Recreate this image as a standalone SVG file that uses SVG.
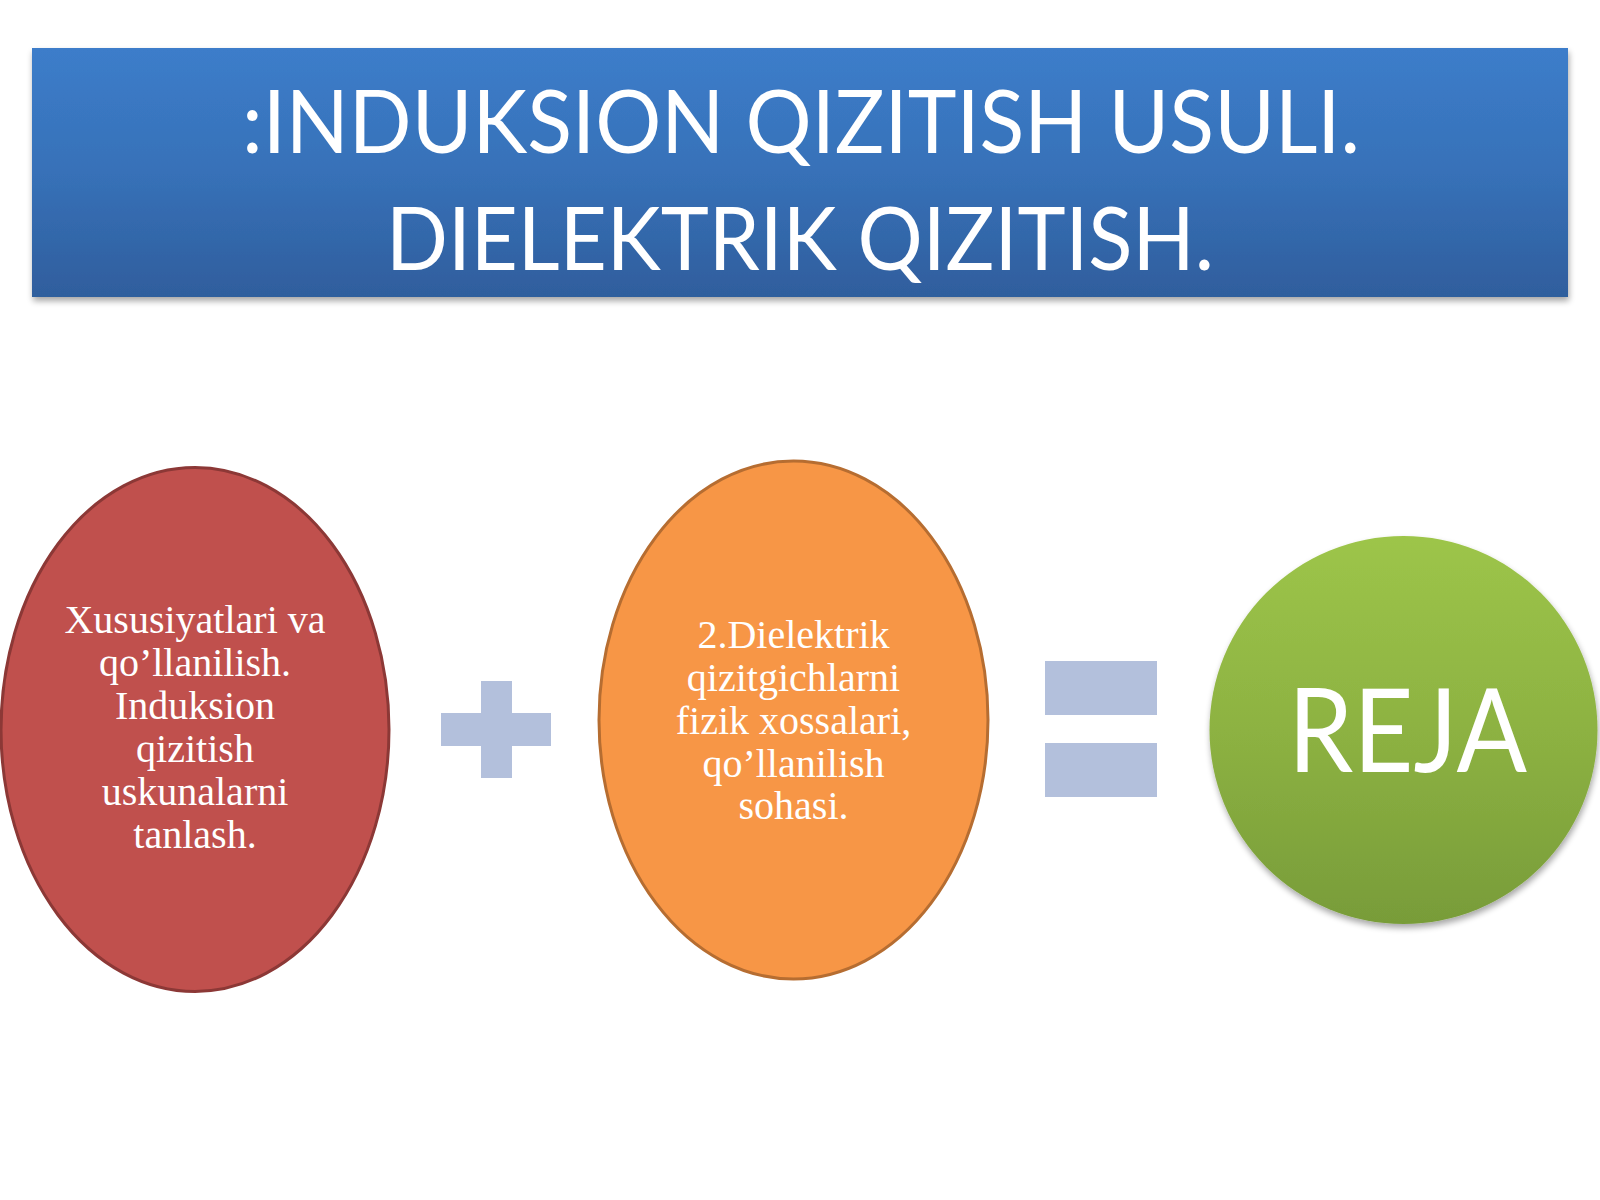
<svg xmlns="http://www.w3.org/2000/svg" width="1600" height="1200" viewBox="0 0 1600 1200">
<style>
.title{font-family:Lato,"Liberation Sans",sans-serif;font-size:88px;fill:#FFFFFF;text-anchor:middle}
.body{font-family:"Liberation Serif","Times New Roman",serif;font-size:40px;fill:#FFFFFF;text-anchor:middle}
.reja{font-family:Lato,"Liberation Sans",sans-serif;font-size:117px;fill:#FFFFFF;text-anchor:middle}
.op{fill:#B3C0DC}
</style>
<defs>
<linearGradient id="gHead" x1="0" y1="0" x2="0" y2="1">
<stop offset="0" stop-color="#3C7DCA"/>
<stop offset="0.5" stop-color="#3771B8"/>
<stop offset="1" stop-color="#2F5E9D"/>
</linearGradient>
<linearGradient id="gGreen" x1="0" y1="0" x2="0" y2="1">
<stop offset="0" stop-color="#9DC549"/>
<stop offset="0.5" stop-color="#8DB242"/>
<stop offset="1" stop-color="#789C39"/>
</linearGradient>
<filter id="shadow" x="-10%" y="-10%" width="120%" height="130%">
<feGaussianBlur in="SourceAlpha" stdDeviation="3"/>
<feOffset dx="1" dy="4" result="b"/>
<feComponentTransfer><feFuncA type="linear" slope="0.35"/></feComponentTransfer>
<feMerge><feMergeNode/><feMergeNode in="SourceGraphic"/></feMerge>
</filter>
</defs>
<rect width="1600" height="1200" fill="#FFFFFF"/>
<g id="header">
<rect x="32" y="48" width="1536" height="249" fill="url(#gHead)" filter="url(#shadow)"/>
<text class="title" x="801" y="153" textLength="1118" lengthAdjust="spacingAndGlyphs">:INDUKSION QIZITISH USULI.</text>
<text class="title" x="800" y="270" textLength="828" lengthAdjust="spacingAndGlyphs">DIELEKTRIK QIZITISH.</text>
</g>
<g id="node-red">
<ellipse cx="195" cy="729.5" rx="194" ry="262" fill="#C0504D" stroke="#8C3836" stroke-width="3"/>
<text class="body" x="195" y="633">Xususiyatlari va</text>
<text class="body" x="195" y="676">qo’llanilish.</text>
<text class="body" x="195" y="719">Induksion</text>
<text class="body" x="195" y="762">qizitish</text>
<text class="body" x="195" y="805">uskunalarni</text>
<text class="body" x="195" y="848">tanlash.</text>
</g>
<g id="connectors">
<g id="plus">
<rect class="op" x="441" y="713" width="110" height="33"/>
<rect class="op" x="481" y="681" width="31" height="97"/>
</g>
<g id="equals">
<rect class="op" x="1045" y="661" width="112" height="54"/>
<rect class="op" x="1045" y="743" width="112" height="54"/>
</g>
</g>
<g id="node-orange">
<ellipse cx="793.5" cy="720" rx="194.5" ry="259" fill="#F79646" stroke="#B66D31" stroke-width="3"/>
<text class="body" x="793.5" y="648">2.Dielektrik</text>
<text class="body" x="793.5" y="691">qizitgichlarni</text>
<text class="body" x="793.5" y="734">fizik xossalari,</text>
<text class="body" x="793.5" y="777">qo’llanilish</text>
<text class="body" x="793.5" y="819">sohasi.</text>
</g>
<g id="node-green">
<circle cx="1403.5" cy="730" r="194" fill="url(#gGreen)" filter="url(#shadow)"/>
<text class="reja" x="1407.5" y="772" textLength="239" lengthAdjust="spacingAndGlyphs">REJA</text>
</g>
</svg>
